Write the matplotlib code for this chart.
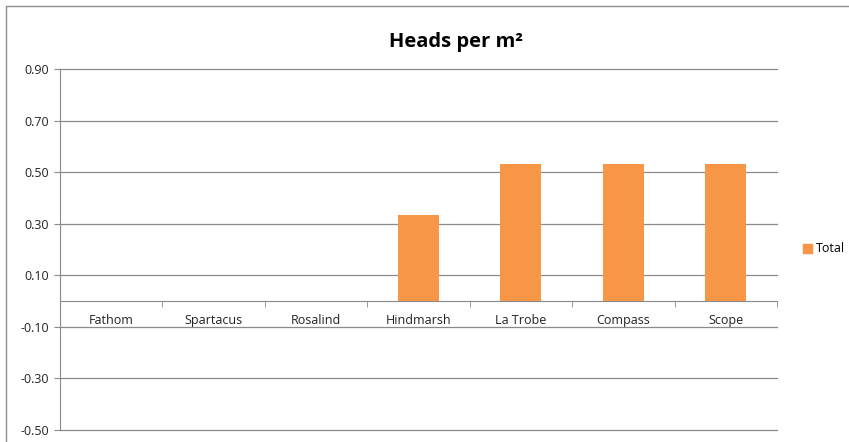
import numpy as np
import matplotlib.pyplot as plt
from matplotlib.patches import Rectangle, Patch

categories = ['Fathom', 'Spartacus', 'Rosalind', 'Hindmarsh', 'La Trobe', 'Compass', 'Scope']
totals = [0, 0, 0, 0.333, 0.533, 0.533, 0.533]
yticks = [-0.50, -0.30, -0.10, 0.10, 0.30, 0.50, 0.70, 0.90]

plt.rcParams['font.family'] = ['Open Sans', 'DejaVu Sans']

fig = plt.figure(figsize=(8.49, 4.42), dpi=100)
W, H = 849, 442
ax = fig.add_axes([60 / W, 1 - 430 / H, (777 - 60) / W, (430 - 69) / H])

# outer chart border
fig.patches.append(Rectangle((6 / W, -0.1), 1.3, 1 - 6 / H + 0.1, transform=fig.transFigure,
                             fill=False, edgecolor='#8c8c8c', linewidth=1))

x = np.arange(len(categories))
ax.bar(x, totals, width=0.4, color='#F79646', zorder=3)

ax.set_xlim(-0.5, len(categories) - 0.5)
ax.set_ylim(-0.5, 0.9)
ax.set_yticks(yticks)
ax.set_yticklabels([f'{v:.2f}' for v in yticks], fontsize=9, color='#222222')
ax.yaxis.grid(True, color='#8a8a8a', linewidth=0.9, zorder=0)
for gl in ax.get_ygridlines():
    gl.set_clip_on(False)
ax.tick_params(axis='y', length=4, color='#8a8a8a', pad=4)

ax.spines['bottom'].set_position(('data', 0))
ax.spines['bottom'].set_color('#8a8a8a')
ax.spines['left'].set_color('#8a8a8a')
ax.spines['top'].set_visible(False)
ax.spines['right'].set_visible(False)

ax.set_xticks(x)
ax.set_xticklabels(categories, fontsize=9, color='#222222')
ax.set_xticks(np.arange(len(categories) + 1) - 0.5, minor=True)
ax.tick_params(axis='x', which='major', length=0, pad=9)
ax.tick_params(axis='x', which='minor', length=4, color='#8a8a8a', direction='out')

fig.text(456 / W, 1 - 42 / H, 'Heads per m²', ha='center', va='center',
         fontsize=14.5, fontweight='bold', color='#000000')

fig.legend(handles=[Patch(color='#F79646', label='Total')], loc='center left',
           bbox_to_anchor=(792 / W, 1 - 249 / H), frameon=False, fontsize=9,
           handlelength=0.7, handleheight=0.7, handletextpad=0.3)

fig.savefig('out.png', dpi=100)
